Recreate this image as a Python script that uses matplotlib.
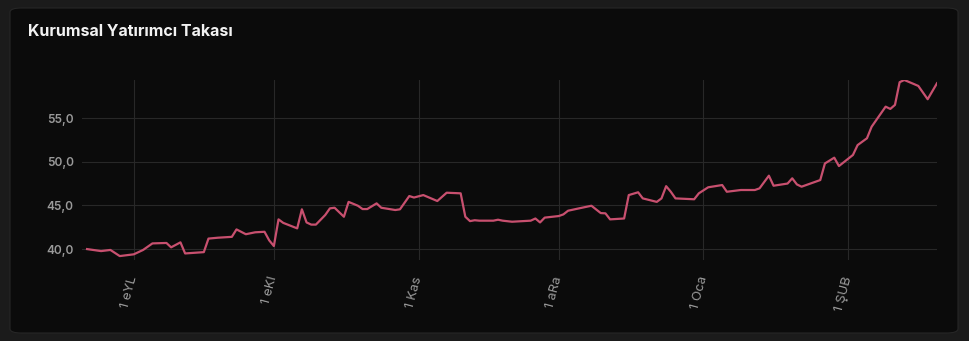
import matplotlib
matplotlib.use("Agg")
import matplotlib.pyplot as plt
from matplotlib.patches import FancyBboxPatch
from matplotlib.ticker import FuncFormatter
import pandas as pd

# series
dates = [
    "2025-08-22", "2025-08-25", "2025-08-27", "2025-08-29", "2025-09-01", "2025-09-03",
    "2025-09-05", "2025-09-08", "2025-09-09", "2025-09-11", "2025-09-12", "2025-09-16",
    "2025-09-17", "2025-09-19", "2025-09-22", "2025-09-23", "2025-09-25", "2025-09-27",
    "2025-09-29", "2025-09-30", "2025-10-01", "2025-10-02", "2025-10-03", "2025-10-06",
    "2025-10-07", "2025-10-08", "2025-10-09", "2025-10-10", "2025-10-12", "2025-10-13",
    "2025-10-14", "2025-10-16", "2025-10-17", "2025-10-19", "2025-10-20", "2025-10-21",
    "2025-10-23", "2025-10-24", "2025-10-27", "2025-10-28", "2025-10-30", "2025-10-31",
    "2025-11-02", "2025-11-05", "2025-11-07", "2025-11-10", "2025-11-11", "2025-11-12",
    "2025-11-13", "2025-11-14", "2025-11-17", "2025-11-18", "2025-11-19", "2025-11-21",
    "2025-11-25", "2025-11-26", "2025-11-27", "2025-11-28", "2025-12-01", "2025-12-02",
    "2025-12-03", "2025-12-05", "2025-12-08", "2025-12-10", "2025-12-11", "2025-12-12",
    "2025-12-15", "2025-12-16", "2025-12-18", "2025-12-19", "2025-12-22", "2025-12-23",
    "2025-12-24", "2025-12-25", "2025-12-26", "2025-12-30", "2025-12-31", "2026-01-02",
    "2026-01-05", "2026-01-06", "2026-01-09", "2026-01-12", "2026-01-13", "2026-01-15",
    "2026-01-16", "2026-01-19", "2026-01-20", "2026-01-21", "2026-01-22", "2026-01-26",
    "2026-01-27", "2026-01-29", "2026-01-30", "2026-02-02", "2026-02-03", "2026-02-05",
    "2026-02-06", "2026-02-09", "2026-02-10", "2026-02-11", "2026-02-12", "2026-02-13",
    "2026-02-15", "2026-02-16", "2026-02-18", "2026-02-20",
]
values = [
    40.0, 39.77, 39.9, 39.2, 39.4, 39.9,
    40.65, 40.7, 40.2, 40.77, 39.5, 39.65,
    41.2, 41.3, 41.4, 42.25, 41.7, 41.92,
    41.98, 41.0, 40.35, 43.4, 43.0, 42.37,
    44.55, 43.05, 42.8, 42.8, 43.9, 44.66,
    44.73, 43.7, 45.4, 44.96, 44.58, 44.58,
    45.23, 44.73, 44.47, 44.55, 46.07, 45.9,
    46.18, 45.5, 46.45, 46.38, 43.7, 43.2,
    43.3, 43.25, 43.25, 43.36, 43.25, 43.13,
    43.25, 43.5, 43.05, 43.6, 43.78, 43.97,
    44.39, 44.62, 44.96, 44.12, 44.09, 43.4,
    43.5, 46.18, 46.5, 45.8, 45.4, 45.8,
    47.2, 46.56, 45.8, 45.7, 46.38, 47.07,
    47.33, 46.56, 46.76, 46.76, 46.95, 48.4,
    47.25, 47.5, 48.1, 47.4, 47.14, 47.9,
    49.8, 50.46, 49.5, 50.77, 51.9, 52.68,
    54.0, 56.3, 56.04, 56.5, 59.1, 59.35,
    58.9, 58.67, 57.15, 58.98,
]
tick_dates = ["2025-09-01", "2025-10-01", "2025-11-01", "2025-12-01", "2026-01-01", "2026-02-01"]
tick_labels = ["1 eYL", "1 eKI", "1 Kas", "1 aRa", "1 Oca", "1 ŞUB"]
y_ticks = [40, 45, 50, 55]
title = "Kurumsal Yatırımcı Takası"

plt.rcParams["font.family"] = ["Inter", "DejaVu Sans"]

x = pd.to_datetime(dates)

fig = plt.figure(figsize=(9.7, 3.41), dpi=100)
fig.patch.set_facecolor("#1b1b1b")

card = FancyBboxPatch((10 / 970, 8 / 341), 948 / 970, 325 / 341,
                      boxstyle="round,pad=0,rounding_size=0.012",
                      transform=fig.transFigure, facecolor="#0b0b0b",
                      edgecolor="#262626", linewidth=0.8, zorder=-5)
fig.patches.append(card)

ax = fig.add_axes([82 / 970, 1 - 260 / 341, 855 / 970, 180 / 341])
ax.set_facecolor("none")
ax.plot(x, values, color="#c8506f", linewidth=1.6, solid_joinstyle="round")

ax.set_xlim(pd.Timestamp("2025-08-20 22:00"), pd.Timestamp("2026-02-20"))
ax.set_ylim(38.75, 59.35)

ax.set_yticks(y_ticks)
ax.yaxis.set_major_formatter(FuncFormatter(lambda v, p: f"{v:.1f}".replace(".", ",")))
ax.set_xticks(pd.to_datetime(tick_dates))
ax.set_xticklabels(tick_labels, rotation=75, rotation_mode="anchor",
                   ha="right", va="center")

ax.grid(True, color="#282828", linewidth=0.8)
ax.set_axisbelow(True)
for s in ax.spines.values():
    s.set_visible(False)
ax.tick_params(axis="both", length=0)
ax.tick_params(axis="y", labelsize=8.5, labelcolor="#9a9a9a", pad=6)
ax.tick_params(axis="x", labelsize=9.5, labelcolor="#9a9a9a", pad=12)
for lbl in ax.get_yticklabels():
    lbl.set_fontweight("semibold")

fig.text(28 / 970, 1 - 32 / 341, title, color="#f2f2f2", fontsize=11.5,
         fontweight="bold", va="center", ha="left")

fig.savefig("out.png", dpi=100, facecolor=fig.get_facecolor())
